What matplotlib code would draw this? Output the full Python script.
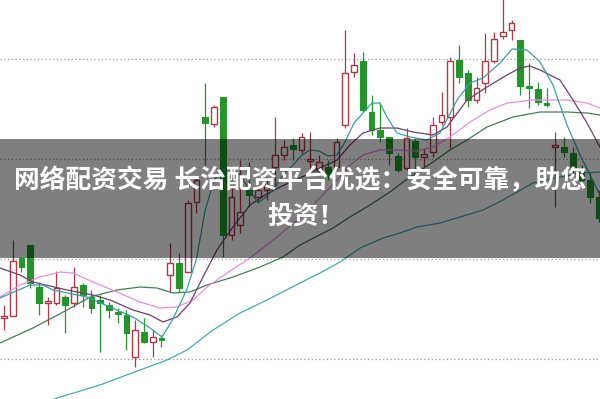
import numpy as np
import matplotlib
matplotlib.use("Agg")
import matplotlib.pyplot as plt
from matplotlib.patches import Rectangle

# K线数据 (开, 高, 低, 收)
opens = [9.41, 9.43, 10.01, 10.14, 9.72, 9.56, 9.56, 9.62, 9.56, 9.74,
         9.62, 9.59, 9.54, 9.47, 9.44, 9.02, 9.27, 9.17, 9.21, 9.84,
         9.96, 9.87, 10.57, 11.42, 11.35, 11.62, 10.24, 10.34, 10.69, 10.62,
         10.69, 10.92, 11.04, 11.14, 11.09, 10.98, 10.89, 10.92, 10.92, 11.34,
         11.87, 11.98, 11.47, 11.29, 11.22, 11.03, 10.91, 11.18, 11.02, 11.07,
         11.37, 11.42, 11.99, 11.86, 11.59, 11.76, 11.98, 12.23, 12.29, 12.19,
         11.73, 11.70, 11.56, 11.12, 11.12, 11.06, 10.87, 10.79, 10.62]
highs = [9.54, 10.19, 10.02, 10.14, 9.76, 9.62, 9.88, 9.64, 9.92, 9.76,
         9.69, 9.64, 9.57, 9.51, 9.49, 9.39, 9.41, 9.29, 9.24, 10.16,
         10.06, 10.59, 10.84, 11.76, 11.54, 11.62, 10.72, 10.99, 10.97, 10.76,
         10.82, 11.42, 11.19, 11.21, 11.26, 11.27, 11.04, 10.99, 11.21, 12.29,
         12.06, 12.07, 11.64, 11.56, 11.22, 11.06, 11.31, 11.21, 11.11, 11.42,
         11.67, 12.02, 12.14, 11.89, 11.82, 12.26, 12.27, 12.65, 12.39, 12.19,
         11.96, 11.77, 11.71, 11.27, 11.22, 11.12, 10.94, 10.86, 10.69]
lows = [9.29, 9.43, 9.87, 9.71, 9.44, 9.34, 9.54, 9.26, 9.52, 9.52,
        9.46, 9.07, 9.41, 9.36, 9.09, 8.92, 9.16, 9.02, 9.12, 9.67,
        9.67, 9.87, 10.46, 10.94, 11.32, 10.02, 10.19, 10.26, 10.52, 10.57,
        10.59, 10.72, 10.99, 10.99, 11.06, 10.86, 10.84, 10.79, 10.89, 11.31,
        11.82, 11.47, 11.24, 11.17, 10.94, 10.87, 10.89, 10.89, 10.92, 11.02,
        11.34, 11.11, 11.76, 11.52, 11.56, 11.66, 11.96, 12.20, 12.19, 11.64,
        11.51, 11.54, 11.52, 10.52, 11.02, 10.86, 10.74, 10.56, 10.37]
closes = [9.43, 9.98, 9.92, 9.76, 9.56, 9.58, 9.71, 9.54, 9.72, 9.64,
          9.51, 9.56, 9.49, 9.45, 9.26, 9.29, 9.17, 9.22, 9.19, 9.96,
          9.71, 10.56, 10.79, 11.36, 11.52, 10.24, 10.62, 10.47, 10.64, 10.69,
          10.74, 11.04, 11.12, 11.10, 11.22, 11.00, 10.97, 10.84, 11.17, 11.86,
          11.94, 11.49, 11.29, 11.22, 11.06, 10.89, 11.21, 11.02, 11.05, 11.34,
          11.44, 11.98, 11.82, 11.59, 11.71, 11.98, 12.20, 12.27, 12.36, 11.73,
          11.71, 11.57, 11.54, 11.14, 11.07, 10.92, 10.79, 10.62, 10.41]

# 均线 (按图读取的点: K线序号, 价格)
ma5_x = [-0.46, 2.97, 4.46, 5.60, 9.49, 12.11, 14.74, 16.69, 18.06, 19.31, 20.91, 22.0,
         22.97, 24.0, 25.03, 26.06, 26.97, 28.0, 29.03, 30.06, 30.97, 32.0, 33.03, 34.06,
         34.97, 36.0, 37.03, 38.06, 38.97, 40.0, 41.03, 42.06, 42.97, 43.77, 44.91, 46.4,
         48.34, 49.83, 51.77, 53.26, 54.74, 56.69, 58.06, 59.77, 61.26, 62.74, 64.34,
         65.83, 66.97, 68.11]
ma5_y = [9.61, 9.74, 9.74, 9.69, 9.62, 9.52, 9.42, 9.31, 9.22, 9.40, 9.70, 10.0,
         10.48, 10.79, 10.89, 10.91, 10.84, 10.70, 10.56, 10.63, 10.72, 10.85, 10.94, 11.04,
         11.09, 11.08, 11.03, 11.04, 11.17, 11.36, 11.46, 11.56, 11.56, 11.42, 11.26, 11.22,
         11.19, 11.26, 11.59, 11.76, 11.81, 11.96, 12.10, 12.09, 11.97, 11.74, 11.34,
         11.04, 10.84, 10.64]

ma10_x = [-0.46, 1.83, 3.31, 7.2, 10.17, 12.11, 14.74, 16.69, 18.17, 19.77, 21.26, 22.74,
          24.34, 26.17, 28.11, 29.83, 31.54, 33.83, 36.11, 38.06, 39.54, 41.03, 42.97,
          44.91, 46.74, 49.03, 50.63, 52.91, 55.2, 57.49, 58.97, 60.11, 61.26, 63.54,
          65.03, 66.63, 68.11]
ma10_y = [9.91, 9.84, 9.77, 9.69, 9.64, 9.59, 9.49, 9.44, 9.37, 9.42, 9.56, 9.82,
          10.09, 10.32, 10.54, 10.64, 10.72, 10.81, 10.91, 10.99, 11.14, 11.26, 11.31,
          11.31, 11.27, 11.24, 11.32, 11.59, 11.72, 11.84, 11.91, 11.93, 11.89, 11.79,
          11.59, 11.36, 11.12]

ma20_x = [-0.46, 1.83, 4.11, 6.4, 7.89, 10.17, 12.91, 15.54, 17.83, 19.77, 21.6, 23.2,
          25.49, 28.11, 31.2, 34.06, 36.11, 38.06, 39.54, 41.03, 42.97, 44.91, 47.2,
          49.03, 50.97, 53.26, 55.54, 57.49, 60.46, 64.34, 66.63, 68.11]
ma20_y = [9.62, 9.74, 9.82, 9.87, 9.86, 9.77, 9.67, 9.57, 9.51, 9.52, 9.59, 9.72,
          9.86, 10.01, 10.22, 10.43, 10.61, 10.79, 10.94, 11.04, 11.09, 11.09, 11.08,
          11.12, 11.22, 11.37, 11.49, 11.56, 11.59, 11.59, 11.56, 11.51]

ma30_x = [-0.46, 3.31, 7.2, 9.83, 12.91, 15.54, 17.49, 19.31, 21.26, 23.2, 26.17, 29.26,
          31.89, 33.83, 37.6, 39.54, 41.83, 44.11, 46.4, 49.03, 50.97, 52.91, 55.2,
          58.17, 61.26, 64.34, 66.63, 68.11]
ma30_y = [9.16, 9.31, 9.49, 9.62, 9.69, 9.72, 9.71, 9.66, 9.67, 9.74, 9.82, 9.92,
          10.02, 10.14, 10.31, 10.42, 10.54, 10.67, 10.82, 10.97, 11.09, 11.19, 11.32,
          11.42, 11.47, 11.47, 11.46, 11.44]

ma60_x = [4.11, 6.06, 10.97, 15.54, 18.63, 20.91, 23.89, 26.97, 30.06, 33.83, 36.11,
          38.4, 40.69, 43.31, 45.26, 47.2, 49.83, 52.11, 54.74, 57.03, 60.46, 63.54,
          66.17, 68.11]
ma60_y = [8.54, 8.61, 8.74, 8.89, 8.99, 9.09, 9.29, 9.46, 9.59, 9.76, 9.86,
          9.97, 10.11, 10.21, 10.26, 10.32, 10.36, 10.42, 10.49, 10.59, 10.76, 10.82,
          10.86, 10.87]

grid_levels = [9, 10, 11, 12]
line1 = "网络配资交易 长治配资平台优选：安全可靠，助您"
line2 = "投资！"

RED = "#ad3a47"
GREEN = "#22962a"

fig = plt.figure(figsize=(6, 3.99), dpi=100)
ax = fig.add_axes([0, 0, 1, 1])
ax.set_xlim(-0.457, 68.114)
ax.set_ylim(8.6, 12.59)
ax.set_axis_off()

for g in grid_levels:
    ax.axhline(g, color="#9a9a9a", lw=0.9, ls=(0, (1, 2)), zorder=1)

o = np.array(opens)
h = np.array(highs)
l = np.array(lows)
c = np.array(closes)
idx = np.arange(len(o))
up = c >= o
cols = np.where(up, RED, GREEN)

ax.vlines(idx, l, h, colors=cols, lw=0.9, zorder=2)
body_h = np.maximum(np.abs(c - o), 0.015)
body_b = np.minimum(o, c)
ax.bar(idx[up], body_h[up], bottom=body_b[up], width=0.66,
       facecolor="white", edgecolor=RED, lw=1.0, zorder=3)
ax.bar(idx[~up], body_h[~up], bottom=body_b[~up], width=0.66,
       facecolor=GREEN, edgecolor=GREEN, lw=0.8, zorder=3)

ax.plot(ma60_x, ma60_y, color="#4aa8b6", lw=0.9, zorder=4)
ax.plot(ma30_x, ma30_y, color="#437f55", lw=0.9, zorder=4)
ax.plot(ma20_x, ma20_y, color="#e48ee4", lw=0.9, zorder=4)
ax.plot(ma10_x, ma10_y, color="#6e3f6e", lw=0.9, zorder=4)
ax.plot(ma5_x, ma5_y, color="#3b9ea6", lw=0.9, zorder=4)

# 半透明横幅
fig.patches.append(Rectangle((0, 1 - 258 / 399), 1, 119 / 399, transform=fig.transFigure,
                             facecolor="black", alpha=0.5, zorder=10))

fam = ["Noto Sans CJK SC", "DejaVu Sans"]
fig.text(0.5, 1 - 181 / 399, line1, ha="center", va="center", color="white",
         fontsize=18.5, fontweight="bold", family=fam, zorder=11)
fig.text(0.51, 1 - 216 / 399, line2, ha="center", va="center", color="white",
         fontsize=18.5, fontweight="bold", family=fam, zorder=11)

fig.savefig("out.png", dpi=100)
